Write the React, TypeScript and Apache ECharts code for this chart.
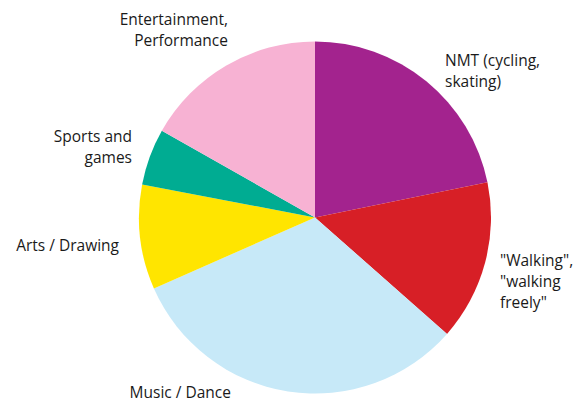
import React, { useEffect, useRef } from "react";
import * as echarts from "echarts";

const categories = [
  "NMT (cycling,\nskating)",
  "\"Walking\",\n\"walking\nfreely\"",
  "Music / Dance",
  "Arts / Drawing",
  "Sports and\ngames",
  "Entertainment,\nPerformance",
];
const values = [21.8, 14.7, 31.9, 9.6, 5.2, 16.8];
const colors = ["#A3238E", "#D71F26", "#C7E9F8", "#FFE500", "#00AC92", "#F7B2D3"];
// label anchor positions (x, y, align)
const labelPos: [number, number, "left" | "right"][] = [
  [445, 70, "left"],
  [500, 281, "left"],
  [231, 392, "right"],
  [119, 245, "right"],
  [132, 146, "right"],
  [228, 29, "right"],
];

export default function App() {
  const ref = useRef<HTMLDivElement>(null);
  useEffect(() => {
    if (!ref.current) return;
    const chart = echarts.init(ref.current, undefined, { renderer: "svg" });
    chart.setOption({
      animation: false,
      backgroundColor: "#ffffff",
      series: [
        {
          type: "pie",
          center: [315, 217.5],
          radius: 176,
          startAngle: 90,
          clockwise: true,
          avoidLabelOverlap: false,
          label: {
            show: true,
            position: "outside",
            color: "#1A1A1A",
            fontFamily: "Open Sans",
            fontSize: 15.5,
            lineHeight: 21,
          },
          labelLine: { show: false },
          labelLayout: (params: any) => {
            const p = labelPos[params.dataIndex];
            return { x: p[0], y: p[1], align: p[2], verticalAlign: "middle" };
          },
          emphasis: { disabled: true },
          data: categories.map((c, i) => ({
            name: c,
            value: values[i],
            itemStyle: { color: colors[i], borderWidth: 0 },
          })),
        },
      ],
    });
    return () => chart.dispose();
  }, []);
  return (
    <div
      ref={ref}
      style={{ position: "fixed", left: 0, top: 0, width: 587, height: 403 }}
    />
  );
}
